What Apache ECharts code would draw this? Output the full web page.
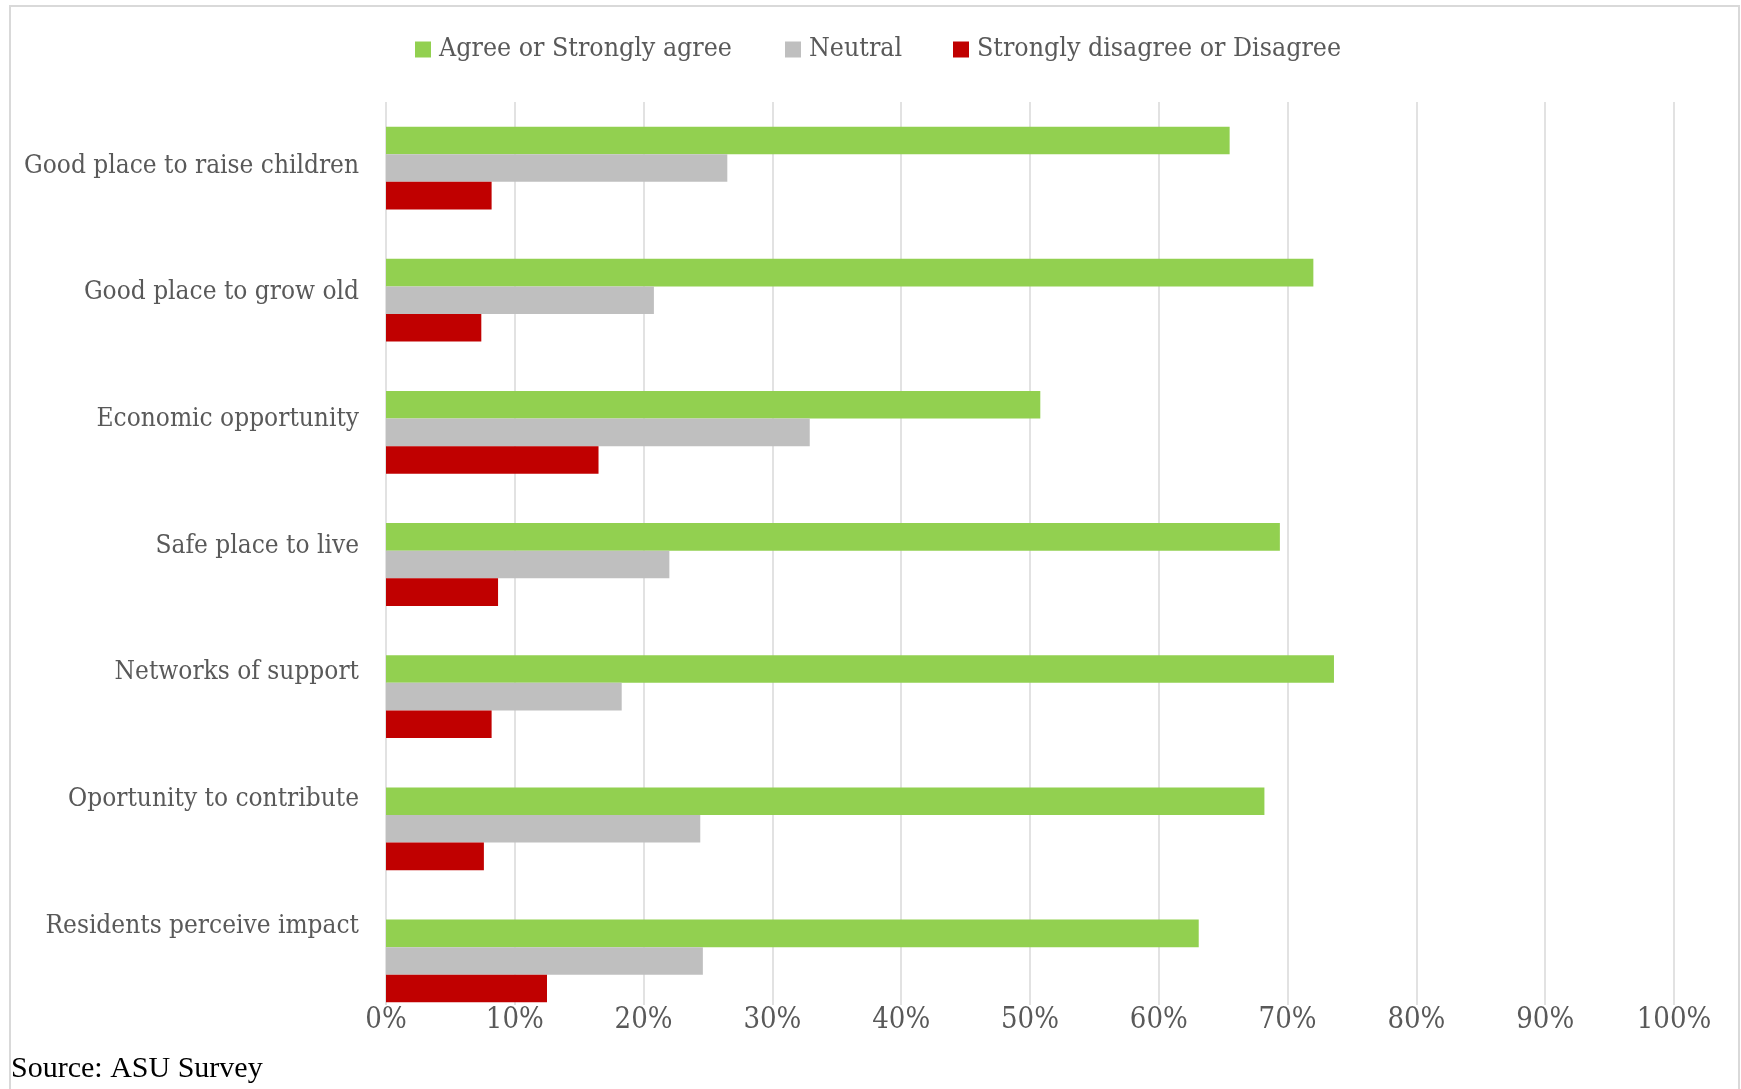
<!DOCTYPE html>
<html>
<head>
<meta charset="utf-8">
<script src="https://cdn.jsdelivr.net/npm/echarts@6/dist/echarts.min.js"></script>
<style>
  html, body { margin: 0; padding: 0; background: #ffffff; }
  #chart { width: 1741px; height: 1089px; }
</style>
</head>
<body>
<div id="chart"></div>
<script>
// Survey statements, top to bottom
const categories = [
  'Good place to raise children',
  'Good place to grow old',
  'Economic opportunity',
  'Safe place to live',
  'Networks of support',
  'Oportunity to contribute',
  'Residents perceive impact'
];

// Share of respondents (%) per answer group
const agreeValues    = [65.5, 72.0, 50.8, 69.4, 73.6, 68.2, 63.1];
const neutralValues  = [26.5, 20.8, 32.9, 22.0, 18.3, 24.4, 24.6];
const disagreeValues = [8.2, 7.4, 16.5, 8.7, 8.2, 7.6, 12.5];

const seriesNames = ['Agree or Strongly agree', 'Neutral', 'Strongly disagree or Disagree'];
const seriesColors = ['#92d050', '#bfbfbf', '#c00000'];

const tickValues = [0, 10, 20, 30, 40, 50, 60, 70, 80, 90, 100];

const labelFont = 'DejaVu Serif Condensed';
const textGrey = '#595959';

const chart = echarts.init(document.getElementById('chart'), null, { renderer: 'canvas' });

const plotLeft = 386;
const plotWidth = 1288;
const plotTop = 102;

function legendAt(name, left) {
  return {
    data: [name],
    left: left,
    top: 36,
    padding: 0,
    icon: 'rect',
    itemWidth: 16,
    itemHeight: 16,
    itemGap: 0,
    textStyle: { fontFamily: labelFont, fontSize: 26.5, color: textGrey, padding: [0, 0, 0, 3] },
    selectedMode: false
  };
}

const option = {
  backgroundColor: '#ffffff',
  animation: false,
  legend: [
    legendAt(seriesNames[0], 415),
    legendAt(seriesNames[1], 785),
    legendAt(seriesNames[2], 953)
  ],
  grid: [
    // bars
    { left: plotLeft, width: plotWidth, top: plotTop, height: 925, containLabel: false },
    // vertical gridlines and percent ticks
    { left: plotLeft, width: plotWidth, top: plotTop, height: 903, containLabel: false },
    // statement labels
    { left: plotLeft, width: plotWidth, top: 102.5, height: 887, containLabel: false }
  ],
  xAxis: [
    { gridIndex: 0, type: 'value', min: 0, max: 100, show: false },
    {
      gridIndex: 1, type: 'value', min: 0, max: 100, interval: 10,
      axisLine: { show: false },
      axisTick: { show: false },
      splitLine: { show: true, lineStyle: { color: '#d9d9d9', width: 1.5 } },
      axisLabel: {
        formatter: function (v) { return tickValues.indexOf(v) >= 0 ? v + '%' : ''; },
        fontFamily: labelFont, fontSize: 29, color: textGrey, margin: 1
      }
    },
    { gridIndex: 2, type: 'value', min: 0, max: 100, show: false }
  ],
  yAxis: [
    { gridIndex: 0, type: 'category', data: categories, inverse: true, show: false },
    { gridIndex: 1, type: 'value', min: 0, max: 1, show: false },
    {
      gridIndex: 2, type: 'category', data: categories, inverse: true,
      axisLine: { show: false },
      axisTick: { show: false },
      splitLine: { show: false },
      axisLabel: { fontFamily: labelFont, fontSize: 26, color: textGrey, margin: 27 }
    }
  ],
  series: [
    { name: seriesNames[0], type: 'bar', data: agreeValues, xAxisIndex: 0, yAxisIndex: 0,
      barWidth: 27.6, barGap: '0%', itemStyle: { color: seriesColors[0] } },
    { name: seriesNames[1], type: 'bar', data: neutralValues, xAxisIndex: 0, yAxisIndex: 0,
      barWidth: 27.6, barGap: '0%', itemStyle: { color: seriesColors[1] } },
    { name: seriesNames[2], type: 'bar', data: disagreeValues, xAxisIndex: 0, yAxisIndex: 0,
      barWidth: 27.6, barGap: '0%', itemStyle: { color: seriesColors[2] } }
  ],
  graphic: [
    {
      type: 'rect', silent: true, z: -1,
      shape: { x: 10, y: 6, width: 1729, height: 1200 },
      style: { fill: null, stroke: '#d9d9d9', lineWidth: 2 }
    },
    {
      type: 'text', left: 11, top: 1054, silent: true,
      style: { text: 'Source: ASU Survey', fontFamily: 'Liberation Serif', fontSize: 30, fill: '#000000' }
    }
  ]
};

chart.setOption(option);
</script>
</body>
</html>
